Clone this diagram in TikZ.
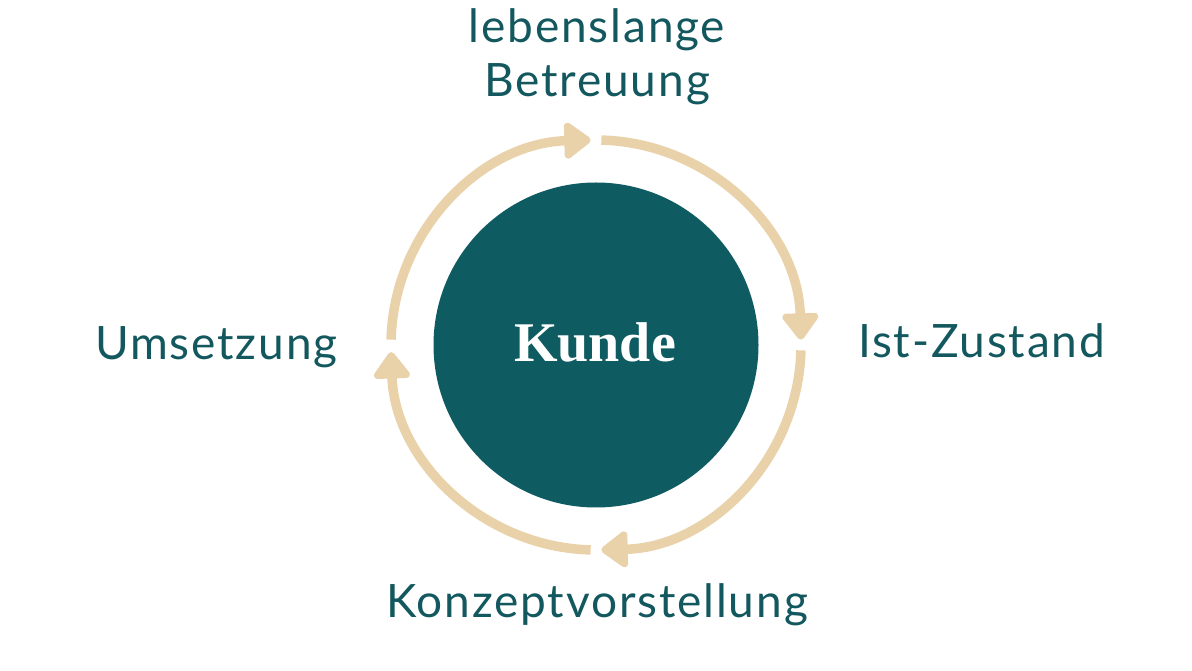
\documentclass[tikz,border=0pt]{standalone}
\usepackage{fontspec}
\newfontfamily\labelfont[LetterSpace=4]{Lato}
\newfontfamily\kundefont{Liberation Serif}
\usetikzlibrary{
		calc,
		positioning,
		arrows.meta
	}
\definecolor{kundeteal}{HTML}{0E5B61}
\definecolor{texteal}{HTML}{13585E}
\definecolor{ringsand}{HTML}{E9D2AA}
\tikzset{
		>=stealth,
		steptext/.style={inner sep=0pt, text=texteal, font=\labelfont\fontsize{46}{54}\selectfont},
		cyclearc/.style={ringsand, line width=9.5pt, -{Triangle[round, length=29pt, width=41pt]}}
	}

\begin{document}
\begin{tikzpicture}[x=1pt, y=1pt]
		\useasboundingbox (0,0) rectangle (1192,670);
		% Centre
		\node[circle, fill=kundeteal, minimum size=325pt, inner sep=0pt] (kunde) at (596,325) {};
		\node[anchor=base, text=white, inner sep=0pt, font=\kundefont\bfseries\fontsize{56}{60}\selectfont] (kundetext) at (595,308) {Kunde};
		% Labels
		\node[steptext, anchor=base, align=center] (betreuung) at (597,573) {lebenslange\\Betreuung};
		\node[steptext, anchor=base west] (istzustand) at (858,312) {Ist-Zustand};
		\node[steptext, anchor=base] (konzept) at (597,53) {Konzeptvorstellung};
		\node[steptext, anchor=base west] (umsetzung) at (95,310) {Umsetzung};
		% Arrows
		\foreach \s/\e in {88.5/1.5, -1.5/-88.5, -91.5/-178, 178.5/91.5} {
			\draw[cyclearc] ($(kunde.center)+(\s:205)$) arc[start angle=\s, end angle=\e, radius=205];
		}
	\end{tikzpicture}
\end{document}
